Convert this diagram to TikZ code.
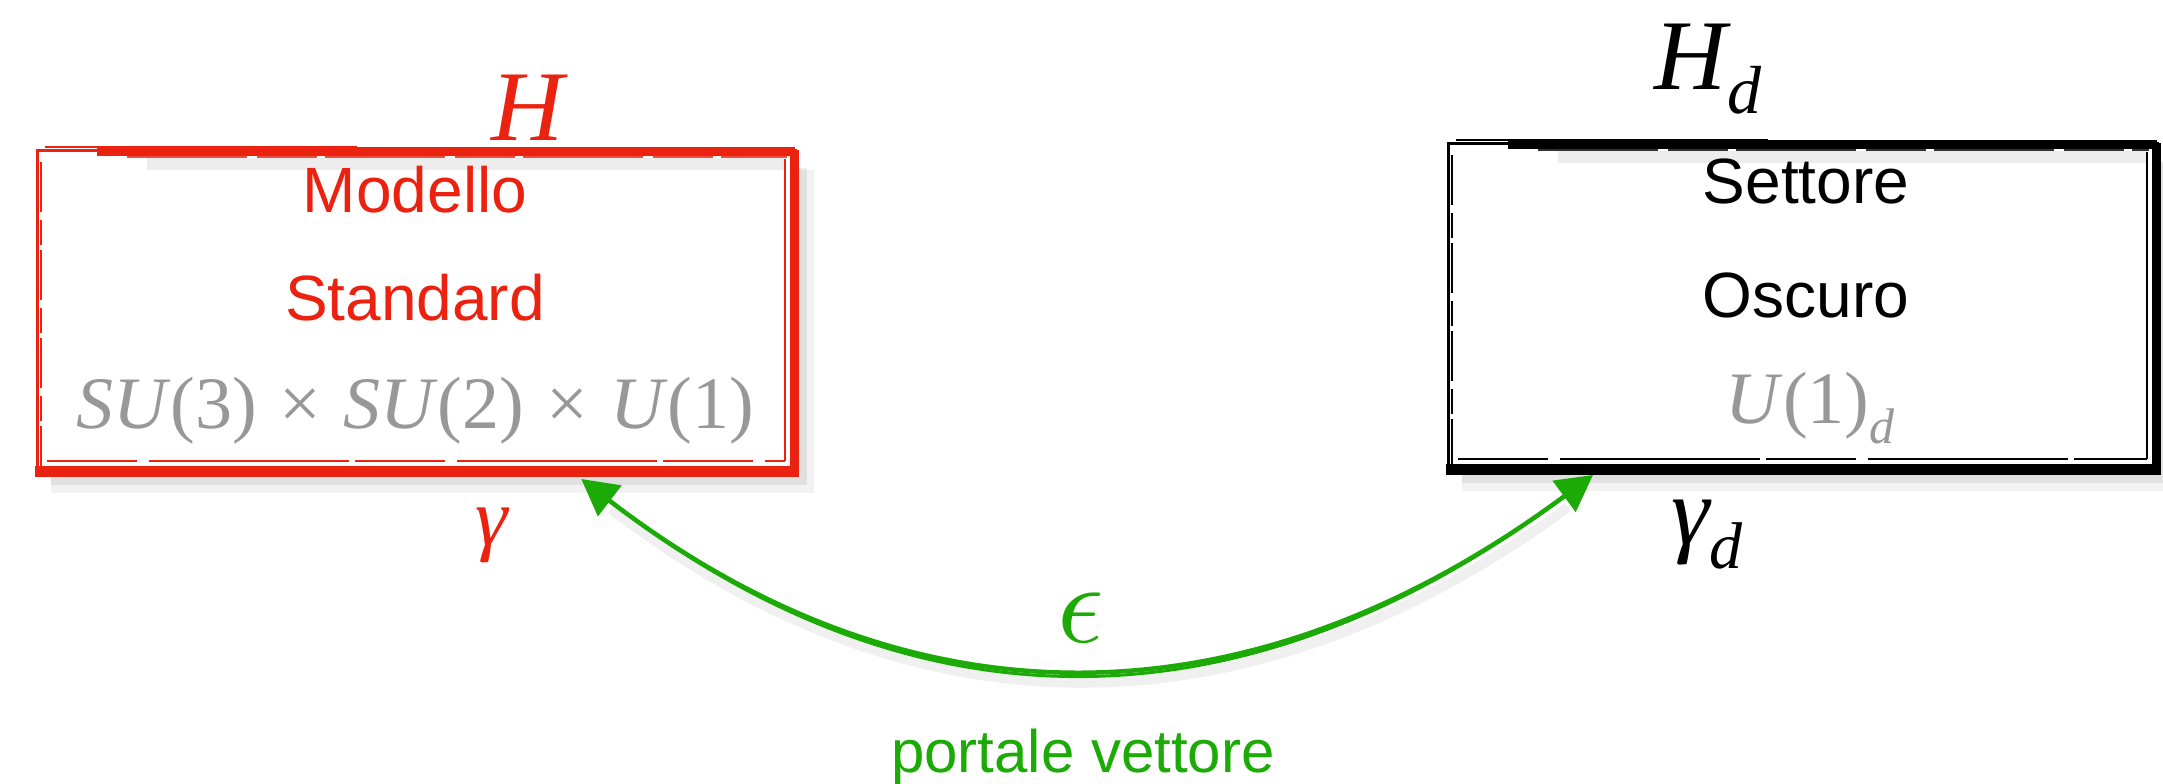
\documentclass[tikz,border=0pt]{standalone}
\usepackage{graphicx}
\usepackage{fontspec}
\setmainfont{Liberation Sans}
\newfontfamily\tms{Liberation Serif}
\usetikzlibrary{arrows.meta,calc}
\definecolor{smred}{RGB}{236,34,16}
\definecolor{mgrey}{RGB}{152,152,152}
\definecolor{pgreen}{RGB}{28,170,6}
\newcommand\tx{\hspace{0.3em}\texttimes\hspace{0.3em}}
% sketchy frame around a node: #1 node name, #2 colour
\newcommand\skframe[2]{%
  % soft shadow
  \draw[black, opacity=0.05, line width=22pt] ($(#1.south west)+(14,12)$) -- ($(#1.south east)+(8,12)$) -- ($(#1.north east)+(8,20)$);
  \draw[black, opacity=0.07, line width=12pt] ($(#1.south west)+(14,9)$) -- ($(#1.south east)+(6,9)$) -- ($(#1.north east)+(6,18)$);
  \draw[black, opacity=0.07, line width=12pt] ($(#1.north west)+(110,14)$) -- ($(#1.north east)+(-10,14)$);
  % outline
  \draw[#2, line width=3pt] (#1.north west) rectangle (#1.south east);
  % brush strokes
  \draw[#2, line width=9pt] ($(#1.north west)+(60,1)$) -- ($(#1.north east)+(0,1)$);
  \draw[#2, line width=2.5pt] ($(#1.north west)+(8,-3)$) -- ($(#1.north west)+(320,-3)$);
  \draw[#2, line width=2pt, opacity=0.8, dash pattern=on 120pt off 10pt on 60pt off 8pt] ($(#1.north west)+(90,7)$) -- ($(#1.north east)+(-8,7)$);
  \draw[#2, line width=9pt] ($(#1.north east)+(-1,0)$) -- ($(#1.south east)+(-1,4)$);
  \draw[#2, line width=1.5pt] ($(#1.north east)+(-10,9)$) -- ($(#1.south east)+(-10,-9)$);
  \draw[#2, line width=11pt] ($(#1.south west)+(-2,1)$) -- ($(#1.south east)+(4,1)$);
  \draw[#2, line width=1.5pt, dash pattern=on 90pt off 12pt on 200pt off 6pt] ($(#1.south west)+(10,-9)$) -- ($(#1.south east)+(-10,-9)$);
  \draw[#2, line width=1.2pt, dash pattern=on 50pt off 8pt on 25pt off 5pt] ($(#1.north west)+(4,12)$) -- ($(#1.south west)+(4,-4)$);
}
\begin{document}
\begin{tikzpicture}[x=1pt,y=-1pt,
  sans/.style={font=\fontsize{64}{64}\selectfont, inner sep=0pt, anchor=base},
  serif/.style={font=\fontsize{74}{74}\selectfont\tms, inner sep=0pt, anchor=base},
  bigital/.style={font=\fontsize{#1}{#1}\selectfont\tms\itshape, inner sep=0pt, anchor=base},
  boxnode/.style={inner sep=0pt, outer sep=0pt, draw=none}]
\useasboundingbox (0,0) rectangle (2163,784);
\fill[white] (0,0) rectangle (2163,784);

% boxes
\node[boxnode, minimum width=758pt, minimum height=320pt] (sm) at (416,310) {};
\node[boxnode, minimum width=709pt, minimum height=325pt] (ds) at (1802.5,305.5) {};
\skframe{sm}{smred}
\skframe{ds}{black}

% left box texts
\node[bigital=100, smred] (tH) at (528,140) {H};
\node[sans, smred] (tMod) at (415,212) {Modello};
\node[sans, smred] (tStd) at (415,320) {Standard};
\node[serif, mgrey] (tSU) at (415,428) {\textit{SU}(3)\tx\textit{SU}(2)\tx\textit{U}(1)};
\node[bigital=82, smred] (tgam) at (492,545) {γ};

% right box texts
\node[bigital=100, black] (tHd) at (1708,89) {H\raisebox{-24pt}{\fontsize{68}{68}\selectfont d}};
\node[sans, black] (tSet) at (1806,203) {Settore};
\node[sans, black] (tOsc) at (1806,317) {Oscuro};
\node[serif, mgrey] (tU) at (1810,423) {\textit{U}(1)\raisebox{-20pt}{\fontsize{50}{50}\selectfont\itshape d}};
\node[bigital=97, black] (tgamd) at (1707,544) {γ\raisebox{-24pt}{\fontsize{66}{66}\selectfont d}};

% portal arrow
\coordinate (tipL) at ($(sm.south west)!0.718!(sm.south east)+(0,9)$);
\coordinate (tipR) at ($(ds.south west)!0.2045!(ds.south east)+(0,7)$);
\draw[black, opacity=0.06, line width=10pt] ($(tipL)+(30,30)$) .. controls (915,742) and (1250,740) .. ($(tipR)+(-25,32)$);
\draw[pgreen, line width=4.5pt, {Triangle[length=36pt,width=38pt]}-{Triangle[length=36pt,width=38pt]}] (tipL) .. controls (911,732) and (1248,730) .. (tipR);
\draw[pgreen, line width=3pt, shorten <=30pt, shorten >=30pt] (tipL) .. controls (913,738) and (1246,736) .. (tipR);
\node[pgreen, inner sep=0pt] (teps) at (1081,618) {\scalebox{11.5}{$\epsilon$}};
\node[font=\fontsize{60}{60}\selectfont, pgreen, inner sep=0pt, anchor=base] (tport) at (1083,772) {portale vettore};
\end{tikzpicture}
\end{document}
